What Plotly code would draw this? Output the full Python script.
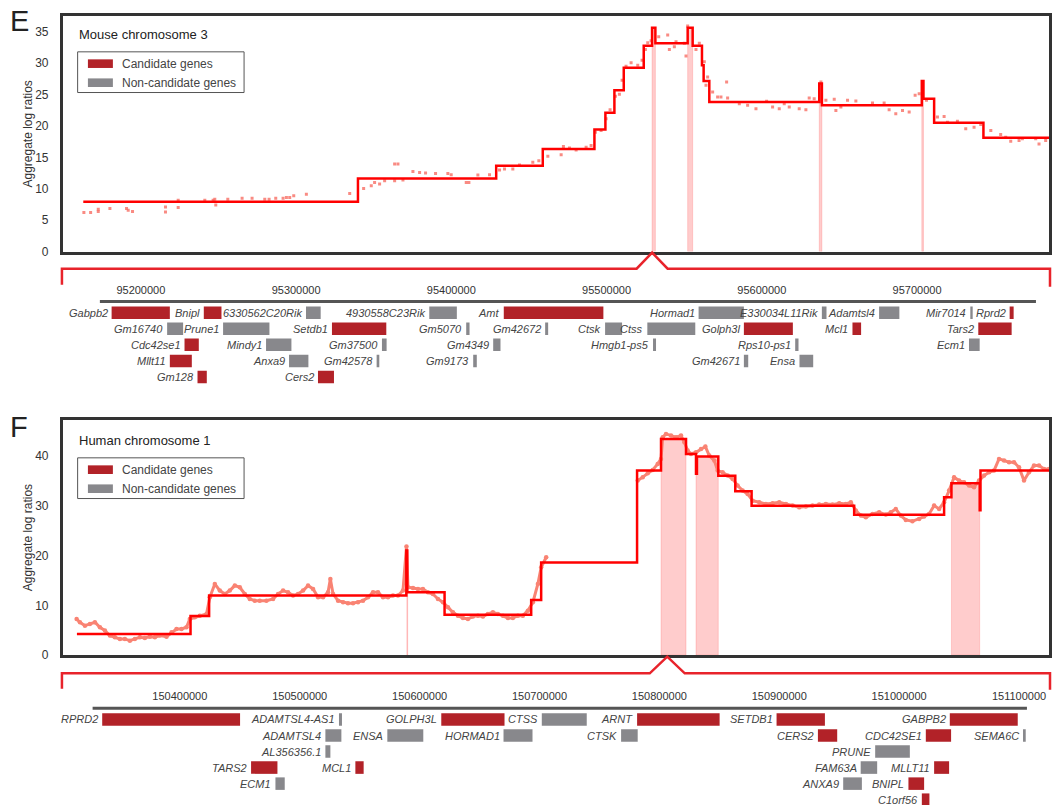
import plotly.graph_objects as go

FONT = "Liberation Sans, Arial, Helvetica, sans-serif"

# ---------------- Mouse chromosome 3 (positions in Mb) ----------------
mouse_chrom_range = [0, 160]
mouse_focus_mb = 95.6
mouse_step_mb = [3.30, 47.87, 70.30, 77.86, 86.24, 88.02, 89.48, 91.00, 94.24, 95.59,
                 96.13, 101.37, 102.18, 103.69, 103.96, 104.88, 122.72, 123.15, 139.36, 139.63,
                 141.36, 149.36, 160.0]
mouse_step_val = [7.92, 11.65, 13.68, 16.35, 19.44, 22.11, 25.68, 29.25, 32.77, 35.65,
                  33.15, 35.65, 32.77, 29.68, 27.17, 23.81, 26.75, 23.28, 27.17, 24.35,
                  20.51, 18.11, 18.11]
mouse_pts_mb = [3.40, 4.49, 5.73, 5.73, 7.62, 10.32, 10.59, 11.29, 16.64, 16.64,
                18.70, 18.70, 23.02, 24.37, 24.64, 24.80, 26.75, 29.07, 30.69, 32.75,
                33.45, 34.53, 35.72, 36.26, 36.80, 37.45, 39.50, 46.53,
                48.79, 50.03, 50.57, 51.38, 52.20, 53.82, 54.36, 53.82, 55.17, 56.79,
                57.87, 58.84, 60.46, 62.46, 63.00, 65.44, 65.87, 67.33, 69.22, 70.84,
                71.65, 73.00, 74.08, 76.24, 77.22, 78.68, 80.84, 81.21, 82.19, 83.27,
                84.89, 85.70, 86.40, 87.32, 88.13, 88.78, 89.64, 90.29, 90.73, 91.37,
                92.19, 93.27, 93.97, 94.51, 94.89, 95.43, 96.67, 98.13, 98.40, 99.21,
                99.48, 100.83, 101.10, 101.37, 102.72,
                103.26, 104.07, 104.61, 104.34, 105.42, 106.23, 106.77, 107.69, 107.85, 109.75,
                111.10, 112.45, 114.18, 115.15, 116.23, 117.04, 117.85, 119.47, 120.55, 121.09,
                121.90, 122.99, 123.80, 125.15, 125.42, 126.23, 127.31, 128.66, 131.36, 133.25,
                134.06, 135.14, 136.23, 137.31, 138.28, 138.93, 140.12, 141.90, 142.98, 143.52,
                145.14, 146.49, 147.84, 148.92, 150.56, 152.16, 152.98, 153.79, 155.14, 155.68,
                157.84, 158.38, 159.46]
mouse_pts_val = [6.21, 6.21, 6.37, 6.75, 6.85, 6.85, 6.59, 6.37, 7.12, 6.32,
                 8.19, 7.01, 8.19, 8.19, 8.35, 7.44, 8.35, 8.51, 8.51, 8.35,
                 8.35, 8.51, 8.51, 8.61, 8.61, 8.88, 9.15, 9.25,
                 10.05, 10.48, 11.01, 10.75, 11.28, 13.95, 13.95, 11.28, 11.39, 12.77,
                 12.61, 12.51, 12.45, 12.45, 12.24, 11.01, 11.01, 12.19, 12.24, 12.99,
                 13.15, 13.15, 13.79, 14.21, 14.48, 15.17, 15.44, 16.72, 16.51, 16.19,
                 16.61, 16.88, 19.01, 19.28, 21.15, 22.59, 24.72, 25.04, 27.28, 29.52,
                 30.05, 29.68, 30.48, 32.19, 33.25, 33.57, 34.21, 34.48, 32.19, 32.61,
                 33.41, 33.15, 31.12, 35.92, 32.19,
                 33.15, 30.21, 27.81, 26.48, 25.41, 24.61, 24.61, 27.01, 24.45, 23.55,
                 23.28, 22.75, 23.92, 23.01, 22.75, 23.55, 23.01, 22.75, 22.59, 24.45,
                 24.35, 27.01, 24.08, 24.24, 22.48, 23.01, 24.08, 23.97, 23.65, 23.65,
                 22.59, 21.95, 22.48, 22.21, 24.88, 25.15, 24.08, 21.41, 21.52, 20.61,
                 20.77, 19.55, 19.81, 20.24, 19.28, 18.64, 18.21, 17.57, 17.68, 17.95,
                 17.95, 17.15, 17.68]
mouse_band_start = [95.59, 101.37, 122.72, 139.36]
mouse_band_end = [96.13, 102.18, 123.15, 139.63]
mouse_band_top = [35.65, 35.65, 26.75, 27.17]

# Mouse gene track (bp)
mouse_track_range = [95149800, 95785000]
mouse_track_span = [95173600, 95776600]
mouse_ticks = [95200000, 95300000, 95400000, 95500000, 95600000, 95700000]
mouse_gene_names = ["Gabpb2", "Bnipl", "6330562C20Rik", "4930558C23Rik", "Amt", "Hormad1",
                    "E330034L11Rik", "Adamtsl4", "Mir7014", "Rprd2",
                    "Gm16740", "Prune1", "Setdb1", "Gm5070", "Gm42672", "Ctsk", "Ctss",
                    "Golph3l", "Mcl1", "Tars2",
                    "Cdc42se1", "Mindy1", "Gm37500", "Gm4349", "Hmgb1-ps5", "Rps10-ps1", "Ecm1",
                    "Mllt11", "Anxa9", "Gm42578", "Gm9173", "Gm42671", "Ensa",
                    "Gm128", "Cers2"]
mouse_gene_start = [95181150, 95240540, 95306370, 95385780, 95433780, 95559270,
                    95638680, 95675550, 95734310, 95759650,
                    95216920, 95252960, 95323100, 95409570, 95460430, 95499040, 95526250,
                    95588450, 95658400, 95739450,
                    95228120, 95280640, 95355300, 95426960, 95529920, 95621500, 95733460,
                    95218660, 95295440, 95351870, 95414080, 95588450, 95624270,
                    95236490, 95314090]
mouse_gene_end = [95218660, 95251930, 95315830, 95403550, 95497940, 95588450,
                  95641660, 95688610, 95735840, 95762220,
                  95227220, 95282820, 95358100, 95411720, 95462360, 95509980, 95557140,
                  95620000, 95663960, 95760930,
                  95237320, 95296980, 95358300, 95431660, 95531850, 95623640, 95740340,
                  95232820, 95307920, 95353600, 95416400, 95591240, 95633100,
                  95242470, 95324390]
mouse_gene_row = [1, 1, 1, 1, 1, 1, 1, 1, 1, 1,
                  2, 2, 2, 2, 2, 2, 2, 2, 2, 2,
                  3, 3, 3, 3, 3, 3, 3,
                  4, 4, 4, 4, 4, 4,
                  5, 5]
mouse_gene_candidate = [1, 1, 0, 0, 1, 0, 0, 0, 0, 1,
                        0, 0, 1, 0, 0, 0, 0, 1, 1, 1,
                        1, 0, 0, 0, 0, 0, 0,
                        1, 0, 0, 0, 0, 0,
                        1, 1]

# ---------------- Human chromosome 1 (positions in Mb) ----------------
human_chrom_range = [0, 249]
human_focus_mb = 152.6
human_step_mb = [3.53, 32.22, 36.91, 86.71, 86.95, 96.37, 118.24, 120.76, 144.98, 151.03,
                 157.34, 159.86, 160.10, 165.49, 169.78, 173.90, 199.80, 222.51, 224.36, 231.50,
                 231.70, 249.0]
human_step_val = [4.25, 7.85, 11.95, 21.0, 12.6, 8.13, 11.08, 18.6, 37.05, 43.4,
                  40.4, 36.4, 39.9, 36.0, 32.9, 30.0, 28.2, 31.7, 34.5, 29.1,
                  37.05, 37.05]
human_pts_mb = [3.45, 4.29, 5.55, 6.81, 8.07, 9.34, 10.60, 11.86, 13.12, 14.38,
                15.64, 16.90, 18.17, 19.43, 20.69, 21.95, 23.21, 24.47, 26.15, 27.42,
                28.68, 29.94, 31.20, 32.04, 33.30, 34.57, 36.25, 37.09, 38.35, 39.61,
                40.87, 42.13, 43.40, 44.66, 45.92, 47.18, 48.44, 49.70, 51.38, 53.07,
                54.33, 55.59, 56.85, 58.11, 59.37, 60.64, 61.90, 63.16, 64.42, 65.68,
                66.94, 67.53, 68.21, 69.47, 70.73, 71.99, 73.25, 74.51, 75.77, 77.04,
                78.30, 79.56, 80.82, 82.08, 83.34, 84.60, 85.87, 86.75, 87.13, 88.39,
                89.65, 90.91, 92.17, 93.43, 94.70, 95.96, 97.22, 98.48, 99.74, 101.00,
                102.27, 103.53, 104.79, 106.05, 107.31, 108.57, 109.83, 111.10, 112.36, 113.62,
                114.88, 116.14, 117.40, 118.67, 119.93, 120.77, 122.03,
                None,
                145.15, 146.41, 147.67, 148.93, 150.19, 151.03, 151.45, 152.29, 153.55, 154.82,
                156.08, 156.92, 157.76, 158.60, 159.86, 161.12, 162.22, 163.22, 164.49, 165.33,
                166.59, 167.85, 169.11, 170.37, 171.63, 172.89, 174.16, 175.84, 177.52, 179.20,
                180.88, 182.57, 184.25, 185.93, 187.61, 189.29, 190.97, 192.66, 194.34, 196.02,
                197.70, 198.96, 200.22, 201.49, 202.75, 204.43, 206.11, 207.79, 209.05, 210.31,
                211.58, 212.84, 214.52, 216.20, 217.46, 218.72, 219.99, 221.25, 222.51, 223.77,
                225.03, 226.29, 227.55, 228.82, 230.08, 231.34, 232.60, 233.86, 235.12, 236.38,
                237.65, 238.91, 240.17, 241.43, 242.69, 243.95, 245.21, 246.48, 247.74, 249.00]
human_pts_val = [7.26, 6.59, 5.92, 6.26, 6.59, 5.59, 4.92, 3.92, 3.58, 3.25,
                 3.25, 2.91, 3.25, 3.58, 3.45, 3.71, 3.58, 3.92, 3.71, 4.58,
                 5.25, 5.25, 5.59, 7.26, 7.60, 7.93, 8.27, 11.61, 14.29, 12.95,
                 12.28, 12.95, 13.96, 13.62, 12.28, 11.28, 10.94, 10.94, 10.94, 11.28,
                 12.28, 12.95, 12.62, 11.95, 12.28, 12.95, 13.96, 13.29, 11.61, 11.61,
                 12.62, 15.29, 12.28, 10.94, 10.61, 10.41, 10.41, 10.61, 10.94, 11.61,
                 12.62, 12.62, 11.61, 11.61, 11.95, 11.95, 12.95, 21.8, 13.62, 13.49,
                 13.29, 13.29, 12.62, 12.28, 11.28, 10.61, 9.60, 8.60, 7.93, 7.46,
                 7.26, 7.73, 7.93, 7.73, 8.27, 8.60, 8.27, 7.93, 7.46, 7.46,
                 7.93, 7.93, 8.93, 10.61, 14.29, 17.64, 19.65,
                 None,
                 35.04, 35.71, 36.51, 37.18, 38.39, 39.39, 43.74, 44.41, 44.08, 43.74,
                 44.08, 42.74, 41.06, 40.40, 40.73, 41.40, 41.87, 40.06, 39.06, 37.05,
                 36.71, 36.04, 35.38, 34.04, 33.03, 32.36, 31.02, 30.69, 30.35, 30.49,
                 30.69, 30.35, 30.02, 29.69, 29.82, 30.02, 30.22, 30.35, 30.22, 30.49,
                 30.35, 30.69, 29.02, 28.01, 27.68, 28.35, 28.68, 28.21, 28.68, 29.35,
                 28.01, 27.14, 26.87, 27.34, 27.81, 28.35, 30.02, 29.35, 30.69, 33.03,
                 35.71, 35.04, 34.71, 34.04, 33.70, 35.04, 36.04, 36.71, 37.05, 39.39,
                 39.06, 38.72, 38.72, 37.72, 35.04, 36.71, 38.05, 38.05, 37.39, 37.39]
human_band_start = [151.03, 159.86, 224.36, 86.85]
human_band_end = [157.34, 165.49, 231.50, 87.05]
human_band_top = [43.4, 39.9, 34.5, 12.6]

# Human gene track (bp)
human_track_range = [150302500, 151125000]
human_track_span = [150327250, 151106600]
human_ticks = [150400000, 150500000, 150600000, 150700000, 150800000, 150900000, 151000000, 151100000]
human_gene_names = ["RPRD2", "ADAMTSL4-AS1", "GOLPH3L", "CTSS", "ARNT", "SETDB1", "GABPB2",
                    "ADAMTSL4", "ENSA", "HORMAD1", "CTSK", "CERS2", "CDC42SE1", "SEMA6C",
                    "AL356356.1", "PRUNE",
                    "TARS2", "MCL1", "FAM63A", "MLLT11",
                    "ECM1", "ANXA9", "BNIPL",
                    "C1orf56"]
human_gene_start = [150335250, 150532750, 150618080, 150701920, 150781420, 150897750, 151042250,
                    150521420, 150573080, 150670000, 150768080, 150932250, 151022250, 151103330,
                    150521420, 150980000,
                    150459420, 150546420, 150967920, 151029170,
                    150479750, 150953330, 151007750,
                    151018920]
human_gene_end = [150450250, 150535250, 150670830, 150739420, 150850250, 150938080, 151098920,
                  150534750, 150603080, 150694170, 150781920, 150948330, 151043330, 151105580,
                  150525580, 151008920,
                  150481420, 150553330, 150981670, 151041670,
                  150487500, 150968920, 151020830,
                  151025250]
human_gene_row = [1, 1, 1, 1, 1, 1, 1,
                  2, 2, 2, 2, 2, 2, 2,
                  3, 3,
                  4, 4, 4, 4,
                  5, 5, 5,
                  6]
human_gene_candidate = [1, 0, 1, 0, 1, 1, 1,
                        0, 0, 0, 0, 1, 1, 0,
                        0, 0,
                        1, 1, 0, 1,
                        0, 0, 1,
                        1]

# ---------------- styling / layout helpers ----------------
W, H = 1052, 805          # reference picture size (layout coordinates below are in its pixels)
FIG_H = 814               # page height photographed for the 805-px picture
RED_CAND = "#B22228"
GRAY_NON = "#88888C"
STEP_RED = "#FF0000"
PT_COL = "#F98373"
BRACKET = "#E8232B"


def fx(px):
    return px / W


def fy(py):
    return 1 - py / H


XDOM = [fx(63), fx(1050)]

fig = go.Figure()
shapes = []
annotations = []


def add_main(xa, ya, pts_x, pts_y, step_x, step_y, b_s, b_e, b_t, human):
    xref = xa.replace("axis", "")
    yref = ya.replace("axis", "")
    for s, e, t in zip(b_s, b_e, b_t):
        shapes.append(dict(type="rect", xref=xref, yref=yref, x0=s, x1=e, y0=0, y1=t,
                           fillcolor="rgba(255,0,0,0.2)",
                           line=dict(color="rgba(255,0,0,0.15)", width=1), layer="below"))
    if human:
        fig.add_trace(go.Scatter(x=pts_x, y=pts_y, mode="lines+markers", connectgaps=False,
                                 line=dict(color=PT_COL, width=3),
                                 marker=dict(color=PT_COL, size=4.5),
                                 xaxis=xref, yaxis=yref, showlegend=False, hoverinfo="skip"))
    else:
        fig.add_trace(go.Scatter(x=pts_x, y=pts_y, mode="markers",
                                 marker=dict(color="rgba(248,110,100,0.8)", size=3, symbol="square"),
                                 xaxis=xref, yaxis=yref, showlegend=False, hoverinfo="skip"))
    fig.add_trace(go.Scatter(x=step_x, y=step_y, mode="lines",
                             line=dict(color=STEP_RED, width=2.5, shape="hv"),
                             xaxis=xref, yaxis=yref, showlegend=False, hoverinfo="skip"))


def add_track(xa, ya, span, names, starts, ends, rows, cand):
    xref = xa.replace("axis", "")
    yref = ya.replace("axis", "")
    fig.add_trace(go.Scatter(x=span, y=[-0.3, -0.3], mode="lines",
                             line=dict(color="#555555", width=3),
                             xaxis=xref, yaxis=yref, showlegend=False, hoverinfo="skip"))
    for flag, col in ((1, RED_CAND), (0, GRAY_NON)):
        idx = [i for i in range(len(names)) if cand[i] == flag]
        fig.add_trace(go.Bar(orientation="h",
                             base=[starts[i] for i in idx],
                             x=[ends[i] - starts[i] for i in idx],
                             y=[-rows[i] for i in idx],
                             width=0.78, marker=dict(color=col, line=dict(width=0)),
                             xaxis=xref, yaxis=yref, showlegend=False, hoverinfo="skip"))
    for n, s, r in zip(names, starts, rows):
        annotations.append(dict(x=s, y=-r, xref=xref, yref=yref, text="<i>%s</i>" % n,
                                showarrow=False, xanchor="right", yanchor="middle", xshift=-2,
                                font=dict(family=FONT, size=11, color="#444444")))


def add_decor(letter, title, dy, chrom_range, focus, bracket_top, peak, left_end, right_end, half_w):
    annotations.append(dict(x=fx(8), y=fy(21 + dy), xref="paper", yref="paper", text=letter,
                            showarrow=False, xanchor="left", yanchor="middle",
                            font=dict(family=FONT, size=29, color="#222222")))
    annotations.append(dict(x=fx(77), y=fy(34 + dy), xref="paper", yref="paper", text=title,
                            showarrow=False, xanchor="left", yanchor="middle",
                            font=dict(family=FONT, size=13, color="#222222")))
    shapes.append(dict(type="rect", xref="paper", yref="paper", x0=fx(77.7), x1=fx(244.3),
                       y0=fy(92.3 + dy), y1=fy(51.7 + dy), line=dict(color="#555555", width=1),
                       fillcolor="white"))
    for k, (lab, col) in enumerate((("Candidate genes", RED_CAND), ("Non-candidate genes", GRAY_NON))):
        yc = 63.5 + dy + k * 19
        shapes.append(dict(type="rect", xref="paper", yref="paper", x0=fx(88), x1=fx(113),
                           y0=fy(yc + 4.3), y1=fy(yc - 4.3), line=dict(width=0), fillcolor=col))
        annotations.append(dict(x=fx(120), y=fy(yc), xref="paper", yref="paper", text=lab,
                                showarrow=False, xanchor="left", yanchor="middle",
                                font=dict(family=FONT, size=12, color="#444444")))
    cx = XDOM[0] + (focus - chrom_range[0]) / (chrom_range[1] - chrom_range[0]) * (XDOM[1] - XDOM[0])
    hw = half_w / W
    path = ("M %f,%f L %f,%f L %f,%f L %f,%f L %f,%f L %f,%f L %f,%f" % (
        fx(62), fy(left_end), fx(62), fy(bracket_top), cx - hw, fy(bracket_top),
        cx, fy(peak), cx + hw, fy(bracket_top), fx(1051), fy(bracket_top), fx(1051), fy(right_end)))
    shapes.append(dict(type="path", xref="paper", yref="paper", path=path,
                       line=dict(color=BRACKET, width=2.5)))


add_main("xaxis", "yaxis", mouse_pts_mb, mouse_pts_val, mouse_step_mb, mouse_step_val,
         mouse_band_start, mouse_band_end, mouse_band_top, False)
add_main("xaxis2", "yaxis2", human_pts_mb, human_pts_val, human_step_mb, human_step_val,
         human_band_start, human_band_end, human_band_top, True)
add_track("xaxis3", "yaxis3", mouse_track_span, mouse_gene_names, mouse_gene_start,
          mouse_gene_end, mouse_gene_row, mouse_gene_candidate)
add_track("xaxis4", "yaxis4", human_track_span, human_gene_names, human_gene_start,
          human_gene_end, human_gene_row, human_gene_candidate)
add_decor("E", "Mouse chromosome 3", 0, mouse_chrom_range, mouse_focus_mb, 268, 252, 284, 286, 15.5)
add_decor("F", "Human chromosome 1", 405, human_chrom_range, human_focus_mb, 671.7, 655, 687, 688, 17.5)

main_x = dict(domain=XDOM, showline=True, mirror=True, linewidth=3, linecolor="#333333",
              showticklabels=False, showgrid=False, zeroline=False, ticks="")
main_y = dict(showline=True, mirror=True, linewidth=3, linecolor="#333333", showgrid=False,
              zeroline=False, ticks="", ticklabelstandoff=9,
              tickfont=dict(family=FONT, size=12, color="#333333"))
track_x = dict(domain=XDOM, side="top", showline=False, showgrid=False, zeroline=False, ticks="",
               tickfont=dict(family=FONT, size=11, color="#333333"))
track_y = dict(visible=False, showgrid=False, zeroline=False)

fig.update_layout(
    width=W, height=FIG_H, margin=dict(l=0, r=0, t=0, b=0),
    paper_bgcolor="white", plot_bgcolor="white", barmode="overlay",
    font=dict(family=FONT, color="#333333"),
    showlegend=False,
    xaxis=dict(main_x, range=mouse_chrom_range, anchor="y"),
    yaxis=dict(main_y, domain=[fy(251), fy(16)], range=[0, 37.5], anchor="x",
               tickvals=[0, 5, 10, 15, 20, 25, 30, 35],
               title=dict(text="Aggregate log ratios", standoff=0,
                          font=dict(family=FONT, size=12, color="#333333"))),
    xaxis2=dict(main_x, range=human_chrom_range, anchor="y2"),
    yaxis2=dict(main_y, domain=[fy(653.5), fy(419)], range=[0, 47.2], anchor="x2",
                tickvals=[0, 10, 20, 30, 40],
                title=dict(text="Aggregate log ratios", standoff=0,
                           font=dict(family=FONT, size=12, color="#333333"))),
    xaxis3=dict(track_x, range=mouse_track_range, anchor="y3", tickvals=mouse_ticks,
                ticktext=[str(t) for t in mouse_ticks]),
    yaxis3=dict(track_y, domain=[fy(385.6), fy(296)], range=[-5.6, 0], anchor="x3"),
    xaxis4=dict(track_x, range=human_track_range, anchor="y4", tickvals=human_ticks,
                ticktext=[str(t) for t in human_ticks]),
    yaxis4=dict(track_y, domain=[fy(804.1), fy(701.7)], range=[-6.4, 0], anchor="x4"),
    shapes=shapes,
    annotations=annotations,
)

fig.write_html("out.html")
